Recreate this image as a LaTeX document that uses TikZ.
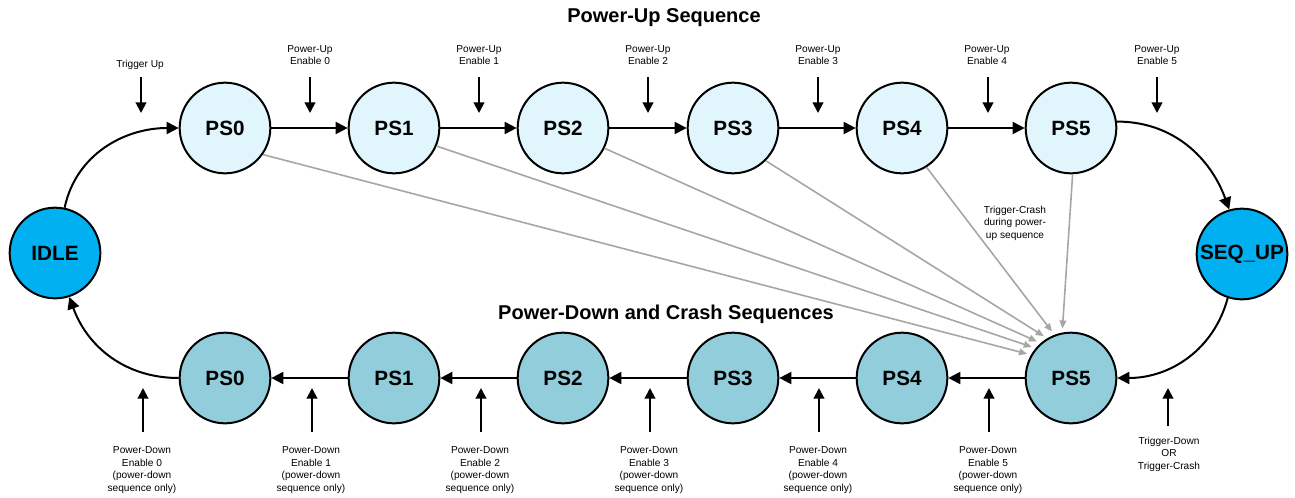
\documentclass[tikz,border=0pt]{standalone}
\usepackage{fontspec}
\setmainfont{Liberation Sans}
\usetikzlibrary{arrows.meta}

\definecolor{upfill}{RGB}{224,245,252}
\definecolor{endfill}{RGB}{0,176,240}
\definecolor{downfill}{RGB}{146,205,220}
\definecolor{crashgray}{RGB}{166,166,166}

\tikzset{every picture/.style={line width=0.75pt}}
\tikzset{
  state/.style={circle,draw,line width=1.5pt,minimum size=68pt,inner sep=0pt,font=\fontsize{15.5}{18}\selectfont\bfseries},
  upstate/.style={state,fill=upfill},
  endstate/.style={state,fill=endfill},
  downstate/.style={state,fill=downfill},
  lbl/.style={align=center,inner sep=0.75pt,font=\fontsize{7.6}{9.4}\selectfont},
  ttl/.style={inner sep=0.75pt,font=\fontsize{15}{18}\selectfont\bfseries},
  trans/.style={line width=1.5pt,-{Triangle[length=9pt,width=9pt]}},
  trig/.style={line width=1.5pt,-{Triangle[length=8pt,width=8pt]}},
  crash/.style={color=crashgray,line width=1.2pt,shorten >=3pt,-{Triangle[length=6pt,width=5pt]}},
}

\begin{document}
\begin{tikzpicture}[x=0.75pt,y=0.75pt,yscale=-1,xscale=1]
\useasboundingbox (0,0) rectangle (1295,497);

%Titles
\node[ttl] (uptitle) at (664,18) {Power-Up Sequence};
\node[ttl] (downtitle) at (666,314) {Power-Down and Crash Sequences};

%Shape: Circle (end states)
\node[endstate] (idle) at (55,253) {IDLE};
\node[endstate] (sequp) at (1242,254) {SEQ\_UP};

%Shape: Circle (power-up)
\node[upstate] (u0) at (225,128) {PS0};
\node[upstate] (u1) at (394,128) {PS1};
\node[upstate] (u2) at (563,128) {PS2};
\node[upstate] (u3) at (733,128) {PS3};
\node[upstate] (u4) at (902,128) {PS4};
\node[upstate] (u5) at (1071,128) {PS5};

%Shape: Circle (power-down)
\node[downstate] (d0) at (225,378) {PS0};
\node[downstate] (d1) at (394,378) {PS1};
\node[downstate] (d2) at (563,378) {PS2};
\node[downstate] (d3) at (733,378) {PS3};
\node[downstate] (d4) at (902,378) {PS4};
\node[downstate] (d5) at (1071,378) {PS5};

%Crash arrows
\draw[crash] (u0.-35) -- (d5.150);
\draw[crash] (u1.-23) -- (d5.140);
\draw[crash] (u2.-26) -- (d5.131);
\draw[crash] (u3.-45) -- (d5.121);
\draw[crash] (u4.-58) -- (d5.111);
\draw[crash] (u5.-88) -- (d5.101);
\node[lbl] (crashlbl) at (1015,223) {Trigger-Crash\\during power-\\up sequence};

%Power-up transitions
\draw[trans] (idle.78) to[out=-78,in=180] (u0.west);
\draw[trans] (u0) -- (u1);
\draw[trans] (u1) -- (u2);
\draw[trans] (u2) -- (u3);
\draw[trans] (u3) -- (u4);
\draw[trans] (u4) -- (u5);
\draw[trans] (u5.8) to[out=0,in=-110] (sequp.106);

%Power-down transitions
\draw[trans] (sequp.-108) to[out=105,in=0] (d5.east);
\draw[trans] (d5) -- (d4);
\draw[trans] (d4) -- (d3);
\draw[trans] (d3) -- (d2);
\draw[trans] (d2) -- (d1);
\draw[trans] (d1) -- (d0);
\draw[trans] (d0.west) to[out=180,in=70] (idle.-72);

%Power-up inputs
\node[lbl] (trigup) at (140,65) {Trigger Up};
\node[lbl] (pu0) at (310,55) {Power-Up\\Enable 0};
\node[lbl] (pu1) at (479,55) {Power-Up\\Enable 1};
\node[lbl] (pu2) at (648,55) {Power-Up\\Enable 2};
\node[lbl] (pu3) at (818,55) {Power-Up\\Enable 3};
\node[lbl] (pu4) at (987,55) {Power-Up\\Enable 4};
\node[lbl] (pu5) at (1157,55) {Power-Up\\Enable 5};
\coordinate (trigupt) at (141,77);  \coordinate (trigupb) at (141,113);
\coordinate (pu0t) at (310,77);  \coordinate (pu0b) at (310,113);
\coordinate (pu1t) at (479,77);  \coordinate (pu1b) at (479,113);
\coordinate (pu2t) at (648,77);  \coordinate (pu2b) at (648,113);
\coordinate (pu3t) at (818,77);  \coordinate (pu3b) at (818,113);
\coordinate (pu4t) at (988,77);  \coordinate (pu4b) at (988,113);
\coordinate (pu5t) at (1157,77); \coordinate (pu5b) at (1157,113);
\draw[trig] (trigupt) -- (trigupb);
\draw[trig] (pu0t) -- (pu0b);
\draw[trig] (pu1t) -- (pu1b);
\draw[trig] (pu2t) -- (pu2b);
\draw[trig] (pu3t) -- (pu3b);
\draw[trig] (pu4t) -- (pu4b);
\draw[trig] (pu5t) -- (pu5b);

%Power-down inputs
\node[lbl] (pd0) at (142,470) {Power-Down\\Enable 0\\(power-down\\sequence only)};
\node[lbl] (pd1) at (311,470) {Power-Down\\Enable 1\\(power-down\\sequence only)};
\node[lbl] (pd2) at (480,470) {Power-Down\\Enable 2\\(power-down\\sequence only)};
\node[lbl] (pd3) at (649,470) {Power-Down\\Enable 3\\(power-down\\sequence only)};
\node[lbl] (pd4) at (818,470) {Power-Down\\Enable 4\\(power-down\\sequence only)};
\node[lbl] (pd5) at (988,470) {Power-Down\\Enable 5\\(power-down\\sequence only)};
\node[lbl] (trigdown) at (1169,454) {Trigger-Down\\OR\\Trigger-Crash};
\coordinate (pd0b) at (143,432);  \coordinate (pd0t) at (143,388);
\coordinate (pd1b) at (312,432);  \coordinate (pd1t) at (312,388);
\coordinate (pd2b) at (481,432);  \coordinate (pd2t) at (481,388);
\coordinate (pd3b) at (650,432);  \coordinate (pd3t) at (650,388);
\coordinate (pd4b) at (819,432);  \coordinate (pd4t) at (819,388);
\coordinate (pd5b) at (989,432);  \coordinate (pd5t) at (989,388);
\coordinate (trigdownb) at (1168,426); \coordinate (trigdownt) at (1168,388);
\draw[trig] (pd0b) -- (pd0t);
\draw[trig] (pd1b) -- (pd1t);
\draw[trig] (pd2b) -- (pd2t);
\draw[trig] (pd3b) -- (pd3t);
\draw[trig] (pd4b) -- (pd4t);
\draw[trig] (pd5b) -- (pd5t);
\draw[trig] (trigdownb) -- (trigdownt);

\end{tikzpicture}
\end{document}
